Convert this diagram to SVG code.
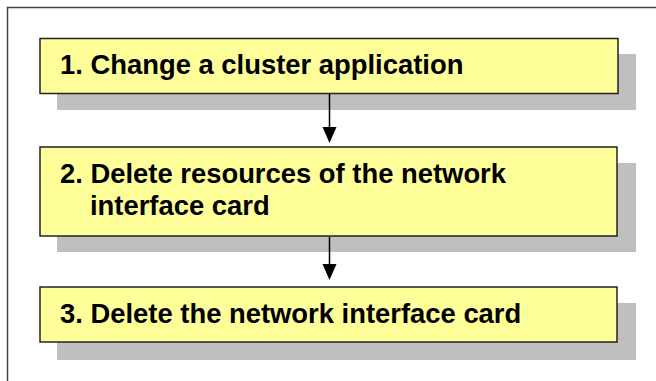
<svg xmlns="http://www.w3.org/2000/svg" width="656" height="381" viewBox="0 0 656 381">
<defs>
<style>
.shadow{fill:#bfbfbf}
.box{fill:#ffff99;stroke:#222;stroke-width:1.5}
.t{font-family:"Liberation Sans",Arial,sans-serif;font-weight:bold;font-size:27.4px;fill:#000}
.conn{stroke:#000;stroke-width:1.5;fill:none}
.head{fill:#000}
</style>
</defs>
<rect width="656" height="381" fill="#fff"/>
<path d="M7.5,381 V7.5 H656" fill="none" stroke="#444" stroke-width="1.5"/>
<g id="node1">
<rect class="shadow" x="57" y="54" width="579" height="56"/>
<rect class="box" x="40" y="38.5" width="578" height="55"/>
<text class="t" x="60" y="74">1. Change a cluster application</text>
</g>
<g id="node2">
<rect class="shadow" x="57" y="163" width="579" height="89"/>
<rect class="box" x="40" y="147" width="577" height="89"/>
<text class="t" x="60" y="183">2. Delete resources of the network</text>
<text class="t" x="90" y="215">interface card</text>
</g>
<g id="node3">
<rect class="shadow" x="57" y="303" width="579" height="57"/>
<rect class="box" x="40" y="287" width="577" height="55"/>
<text class="t" x="60" y="323">3. Delete the network interface card</text>
</g>
<g id="connectors">
<line class="conn" x1="329.5" y1="94" x2="329.5" y2="128"/>
<path class="head" d="M322.5,127 L336.5,127 L329.5,143 Z"/>
<line class="conn" x1="329.5" y1="237" x2="329.5" y2="265"/>
<path class="head" d="M322.5,264 L336.5,264 L329.5,280 Z"/>
</g>
</svg>
